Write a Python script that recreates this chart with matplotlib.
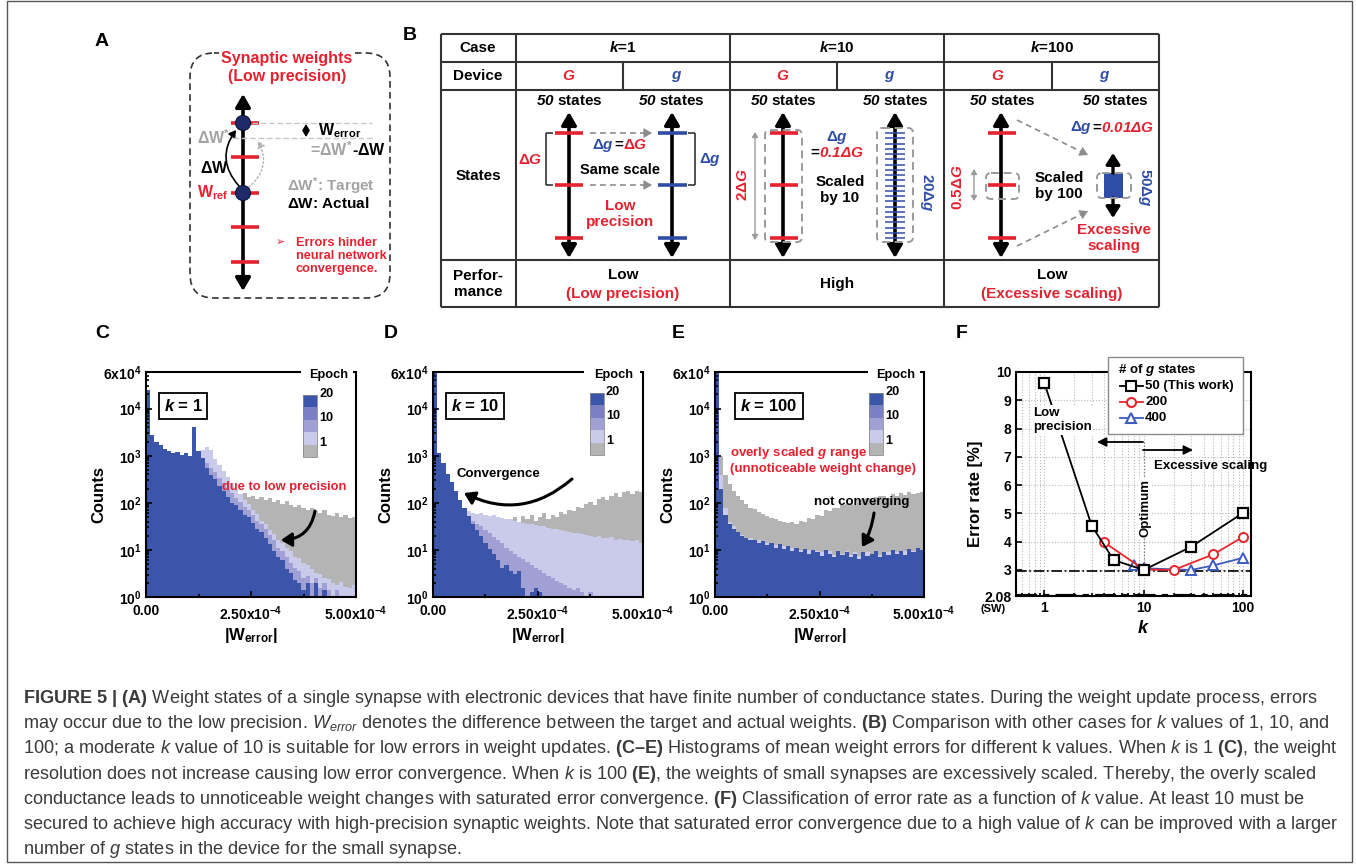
import numpy as np
import matplotlib
matplotlib.use('Agg')
import matplotlib.pyplot as plt
from matplotlib.patches import FancyArrowPatch, FancyBboxPatch, Rectangle, Circle
from matplotlib.ticker import FixedLocator, NullFormatter, LogLocator

plt.rcParams['font.family'] = ['Liberation Sans', 'DejaVu Sans']
plt.rcParams['mathtext.fontset'] = 'custom'
plt.rcParams['mathtext.rm'] = 'Liberation Sans'
plt.rcParams['mathtext.it'] = 'Liberation Sans:italic'
plt.rcParams['mathtext.bf'] = 'Liberation Sans:bold'
plt.rcParams['mathtext.bfit'] = 'Liberation Sans:italic:bold'

# ---------------- data ----------------
# histogram bins of |W_error| (0 .. 5e-4), counts stored as log10(count)
bin_edges = np.linspace(0, 5e-4, 51)

C_epoch1 = [2.80, 2.78, 2.75, 2.72, 2.70, 2.68, 2.66, 2.64, 2.62, 2.60,
            2.60, 2.58, 2.55, 2.50, 2.45, 2.40, 2.35, 2.30, 2.28, 2.25,
            2.22, 2.20, 2.17, 2.20, 2.12, 2.15, 2.08, 2.12, 2.05, 2.10,
            2.02, 2.06, 1.98, 2.03, 1.95, 1.92, 1.96, 1.88, 1.85, 1.90,
            1.82, 1.78, 1.84, 1.75, 1.72, 1.78, 1.70, 1.74, 1.68, 1.70]
C_epoch5 = [2.90, 2.95, 2.92, 2.90, 2.88, 2.86, 2.85, 2.86, 2.84, 2.85,
            2.88, 3.00, 3.05, 3.12, 3.18, 3.12, 2.92, 2.80, 2.68, 2.55,
            2.42, 2.30, 2.18, 2.06, 1.97, 1.84, 1.76, 1.62, 1.55, 1.42,
            1.34, 1.22, 1.14, 1.05, 0.97, 0.86, 0.82, 0.72, 0.68, 0.60,
            0.52, 0.48, 0.40, 0.38, 0.30, 0.25, 0.32, 0.22, 0.20, 0.25]
C_epoch10 = [2.85, 2.90, 2.88, 2.86, 2.84, 2.82, 2.80, 2.82, 2.80, 2.82,
             2.85, 2.95, 3.00, 2.95, 2.85, 2.75, 2.66, 2.52, 2.42, 2.30,
             2.20, 2.10, 2.02, 1.92, 1.85, 1.75, 1.62, 1.55, 1.45, 1.32,
             1.20, 1.05, 0.98, 0.85, 0.72, 0.62, 0.55, 0.40, 0.45, 0.30,
             0.40, 0.20, 0.30, 0.15, 0.00, 0.15, 0.00, 0.00, 0.00, 0.00]
C_epoch20 = [4.39, 3.45, 3.30, 3.22, 3.15, 3.10, 3.05, 3.08, 3.02, 3.06,
             3.00, 3.60, 3.10, 2.95, 2.75, 2.60, 2.50, 2.35, 2.25, 2.12,
             2.00, 1.95, 1.85, 1.75, 1.70, 1.58, 1.45, 1.38, 1.25, 1.12,
             0.98, 0.85, 0.78, 0.60, 0.50, 0.36, 0.30, 0.15, 0.30, 0.00,
             0.30, 0.00, 0.15, 0.00, 0.00, 0.00, 0.00, 0.00, 0.00, 0.00]

D_epoch1 = [2.60, 2.20, 1.90, 1.75, 1.70, 1.66, 1.62, 1.60, 1.56, 1.55,
            1.52, 1.50, 1.50, 1.48, 1.48, 1.50, 1.52, 1.55, 1.62, 1.70,
            1.60, 1.72, 1.65, 1.75, 1.62, 1.70, 1.78, 1.66, 1.74, 1.70,
            1.80, 1.76, 1.85, 1.82, 1.92, 1.88, 1.98, 2.02, 1.96, 2.08,
            2.12, 2.05, 2.15, 2.20, 2.12, 2.22, 2.25, 2.18, 2.26, 2.22]
D_epoch5 = [2.70, 2.30, 2.00, 1.88, 1.85, 1.84, 1.82, 1.80, 1.82, 1.78,
            1.76, 1.78, 1.74, 1.72, 1.74, 1.70, 1.68, 1.66, 1.65, 1.62,
            1.60, 1.58, 1.56, 1.55, 1.52, 1.50, 1.50, 1.47, 1.45, 1.44,
            1.42, 1.40, 1.38, 1.36, 1.35, 1.33, 1.32, 1.30, 1.28, 1.30,
            1.26, 1.25, 1.27, 1.22, 1.24, 1.20, 1.22, 1.18, 1.20, 1.15]
D_epoch10 = [2.00, 2.00, 1.98, 1.95, 1.85, 1.80, 1.75, 1.72, 1.66, 1.62,
             1.55, 1.50, 1.42, 1.35, 1.28, 1.20, 1.15, 1.05, 0.98, 0.92,
             0.85, 0.80, 0.75, 0.68, 0.62, 0.58, 0.52, 0.45, 0.40, 0.35,
             0.30, 0.25, 0.20, 0.15, 0.20, 0.10, 0.00, 0.10, 0.00, 0.00,
             0.00, 0.00, 0.00, 0.00, 0.00, 0.00, 0.00, 0.00, 0.00, 0.00]
D_epoch20 = [4.78, 3.05, 2.85, 2.62, 2.45, 2.25, 2.05, 1.90, 1.72, 1.55,
             1.42, 1.30, 1.15, 1.02, 0.92, 0.78, 0.62, 0.68, 0.55, 0.48,
             0.55, 0.20, 0.00, 0.10, 0.20, 0.10, 0.00, 0.00, 0.00, 0.00,
             0.00, 0.00, 0.00, 0.00, 0.00, 0.00, 0.00, 0.00, 0.00, 0.00,
             0.00, 0.00, 0.00, 0.00, 0.00, 0.00, 0.00, 0.00, 0.00, 0.00]

E_epoch1 = [4.50, 3.00, 2.60, 2.40, 2.25, 2.15, 2.05, 1.98, 1.90, 1.86,
            1.80, 1.76, 1.72, 1.68, 1.65, 1.62, 1.60, 1.58, 1.60, 1.56,
            1.62, 1.60, 1.68, 1.65, 1.75, 1.72, 1.85, 1.82, 1.90, 1.88,
            1.95, 1.98, 2.00, 1.96, 2.05, 2.08, 2.10, 2.05, 2.12, 2.15,
            2.15, 2.10, 2.18, 2.14, 2.20, 2.16, 2.22, 2.18, 2.20, 2.22]
E_epoch5 = [4.00, 2.60, 1.90, 1.60, 1.50, 1.35, 1.32, 1.20, 1.25, 1.15,
            1.20, 1.10, 1.15, 1.05, 1.10, 1.00, 1.08, 1.00, 1.05, 0.95,
            1.00, 0.95, 1.00, 0.90, 0.98, 0.95, 0.92, 0.98, 0.90, 0.95,
            0.92, 0.98, 0.90, 0.95, 0.88, 0.90, 0.95, 0.88, 0.92, 0.90,
            0.92, 0.95, 0.90, 0.95, 0.92, 0.98, 0.95, 0.98, 1.00, 0.98]
E_epoch20 = [4.78, 2.30, 1.75, 1.55, 1.45, 1.38, 1.30, 1.25, 1.20, 1.22,
             1.15, 1.18, 1.10, 1.14, 1.05, 1.12, 1.02, 1.08, 0.98, 1.05,
             0.95, 1.02, 0.92, 1.00, 0.95, 0.88, 1.00, 0.92, 0.85, 0.98,
             0.90, 0.95, 0.85, 0.92, 0.80, 0.95, 0.88, 0.92, 0.98, 0.85,
             0.95, 0.90, 1.00, 0.92, 0.98, 0.90, 1.02, 0.95, 1.05, 1.00]

# panel F: error rate vs k
k_50 = [1, 3, 5, 10, 30, 100]
err_50 = [9.62, 4.57, 3.35, 3.00, 3.82, 5.02]
k_200 = [4, 10, 20, 50, 100]
err_200 = [3.98, 3.02, 3.00, 3.55, 4.17]
k_400 = [8, 10, 30, 50, 100]
err_400 = [3.17, 3.06, 3.00, 3.16, 3.43]
err_sw = 2.08
err_best = 2.97

# ---------------- style ----------------
RED = '#e42230'
BLUE = '#2f4da6'
GRAY_T = '#a3a3a3'
C_E1 = '#b4b4b4'
C_E5 = '#cacaea'
C_E10 = '#a0a0d4'
C_E15 = '#7b80c4'
C_E20 = '#3b55ab'
THICK = '<|-|>,head_length=0.55,head_width=0.32'

W, H = 1356, 866
fig = plt.figure(figsize=(W / 100, H / 100), dpi=100)


def frac(l, t, r, b):
    return [l / W, 1 - b / H, (r - l) / W, (b - t) / H]


axC = fig.add_axes(frac(146, 372, 356, 597))
axD = fig.add_axes(frac(433, 372, 643, 597))
axE = fig.add_axes(frac(715, 372, 924, 597))
axF = fig.add_axes(frac(1016, 372, 1251, 596))
ov = fig.add_axes([0, 0, 1, 1], zorder=10)
ov.set_xlim(0, W)
ov.set_ylim(H, 0)
ov.axis('off')
ov.patch.set_visible(False)
rend = fig.canvas.get_renderer()


def px(x, y, s, **kw):
    kw.setdefault('ha', 'center')
    kw.setdefault('va', 'center')
    kw.setdefault('fontweight', 'bold')
    return ov.text(x, y, s, **kw)


def line(x0, y0, x1, y1, color='#333333', lw=1.3, **kw):
    ov.plot([x0, x1], [y0, y1], color=color, lw=lw, solid_capstyle='butt', **kw)


def arrow(x0, y0, x1, y1, style='-|>', ms=10, lw=1.0, color='k', rad=0.0, ls='-'):
    ov.add_patch(FancyArrowPatch((x0, y0), (x1, y1), arrowstyle=style, mutation_scale=ms,
                                 lw=lw, color=color, linestyle=ls, shrinkA=0, shrinkB=0,
                                 connectionstyle=f'arc3,rad={rad}'))


def dashed_arrow(x0, y0, x1, y1, color='#8c8c8c'):
    d = np.hypot(x1 - x0, y1 - y0)
    ux, uy = (x1 - x0) / d, (y1 - y0) / d
    ov.plot([x0, x1 - 4 * ux], [y0, y1 - 4 * uy], color=color, lw=1.2, ls=(0, (3.5, 2.5)))
    arrow(x1 - 7 * ux, y1 - 7 * uy, x1, y1, style='-|>,head_length=0.6,head_width=0.35',
          ms=9, lw=0.5, color=color)


def dbox(x0, y0, x1, y1, rs=5, color='#9a9a9a', lw=1.4):
    ov.add_patch(FancyBboxPatch((x0, y0), x1 - x0, y1 - y0, boxstyle=f'round,pad=0,rounding_size={rs}',
                                fc='none', ec=color, lw=lw, ls=(0, (4, 2.5))))


def rich(x, y, parts, size=11, ha='center'):
    # several colours in one line
    texts, widths = [], []
    for s, c in parts:
        t = ov.text(0, y, s, color=c, fontsize=size, fontweight='bold', ha='left', va='center')
        texts.append(t)
        widths.append(t.get_window_extent(rend).width)
    x0 = x - sum(widths) / 2 if ha == 'center' else x
    for t, w in zip(texts, widths):
        t.set_x(x0)
        x0 += w


# ---------------- frame and panel letters ----------------
ov.add_patch(Rectangle((7, 1), 1345, 861, fc='none', ec='#555555', lw=1.0))
for lab, x, y in [('A', 102, 41), ('B', 410, 36), ('C', 102, 334), ('D', 391, 333),
                  ('E', 678, 333), ('F', 962, 333)]:
    px(x, y, lab, fontsize=14)

# ---------------- panel A ----------------
dbox(190, 53, 390, 298, rs=24, color='#333333', lw=1.2)
px(287, 58, 'Synaptic weights', color=RED, fontsize=11.5,
   bbox=dict(boxstyle='square,pad=0.15', fc='w', ec='none'))
px(287, 77, '(Low precision)', color=RED, fontsize=11.5)
arrow(243, 291, 243, 94, style=THICK, ms=14, lw=2.6)
for yy in [123, 157, 193, 227, 262]:
    line(231, yy, 259, yy, color=RED, lw=2.6)
line(252, 123, 372, 123, color='#c8c8c8', lw=1.0, ls=(0, (4, 2)))
line(233, 138, 372, 138, color='#c8c8c8', lw=1.0, ls=(0, (4, 2)))
for yy in [123, 193]:
    ov.add_patch(Circle((243, yy), 7.5, fc='#1d2b69', ec='#0c1233', lw=0.8, zorder=5))
arrow(306, 124, 306, 137, style='<|-|>,head_length=0.5,head_width=0.3', ms=7, lw=1.1)
arrow(239, 186, 236, 130, style='-|>,head_length=0.5,head_width=0.3', ms=8, lw=1.2, rad=-0.4)
arrow(249, 187, 258, 141, style='-|>,head_length=0.5,head_width=0.3', ms=8, lw=1.1,
      color='#b5b5b5', rad=0.4, ls=':')
px(318, 131, r'$\mathbf{W_{error}}$', ha='left', fontsize=11.5)
rich(310, 150, [(r'=$\mathbf{\Delta W^{*}}$', GRAY_T), (r'-$\mathbf{\Delta W}$', 'k')],
     size=11.5, ha='left')
px(214, 138, r'$\mathbf{\Delta W^{*}}$', color=GRAY_T, fontsize=11.5)
px(214, 168, r'$\mathbf{\Delta W}$', fontsize=11.5)
px(213, 193, r'$\mathbf{W_{ref}}$', color=RED, fontsize=11.5)
px(287, 186, r'$\mathbf{\Delta W^{*}}$: Target', color=GRAY_T, ha='left', fontsize=11)
px(287, 203, r'$\mathbf{\Delta W}$: Actual', ha='left', fontsize=11)
px(280, 242, '\u27a2', color=RED, fontsize=8, fontweight='normal')
px(296, 256, 'Errors hinder\nneural network\nconvergence.', color=RED, ha='left',
   fontsize=9.2, linespacing=1.1)

# ---------------- panel B (table) ----------------
for yy in [34, 62, 90, 260, 307]:
    line(441, yy, 1159, yy, lw=1.5)
for xx in [441, 516, 730, 944, 1159]:
    line(xx, 34, xx, 307, lw=1.5)
for xx in [623, 837, 1052]:
    line(xx, 62, xx, 90, lw=1.5)
TS = 11
px(478, 48, 'Case', fontsize=TS)
px(478, 76, 'Device', fontsize=TS)
px(478, 176, 'States', fontsize=TS)
px(478, 284, 'Perfor-\nmance', fontsize=TS, linespacing=1.15)
for xc, kk in [(623, 1), (837, 10), (1052, 100)]:
    px(xc, 48, r'$\mathbfit{k}$=%d' % kk, fontsize=TS)
for xg, xs in [(569, 677), (783, 890), (998, 1105)]:
    px(xg, 76, r'$\mathbfit{G}$', color=RED, fontsize=TS)
    px(xs, 76, r'$\mathbfit{g}$', color=BLUE, fontsize=TS)
for xx in [569, 671, 783, 895, 1002, 1115]:
    px(xx, 101, r'$\mathbfit{50}$ states', fontsize=TS)
for xx in [569, 672, 783, 895, 1001]:
    arrow(xx, 258, xx, 112, style=THICK, ms=14, lw=2.6)
state_y = [133, 185, 238]

# k = 1
for yy in state_y:
    line(555, yy, 583, yy, color=RED, lw=2.6)
    line(658, yy, 687, yy, color=BLUE, lw=2.6)
line(546, 133, 546, 185, lw=1.2)
line(546, 133, 553, 133, lw=1.2)
line(546, 185, 553, 185, lw=1.2)
line(695, 133, 695, 185, lw=1.2)
line(688, 133, 695, 133, lw=1.2)
line(688, 185, 695, 185, lw=1.2)
px(530, 160, r'$\mathbf{\Delta}\mathbfit{G}$', color=RED, fontsize=TS)
px(710, 160, r'$\mathbf{\Delta}\mathbfit{g}$', color=BLUE, fontsize=TS)
dashed_arrow(590, 133, 652, 133)
dashed_arrow(590, 185, 652, 185)
rich(620, 145, [(r'$\mathbf{\Delta}\mathbfit{g}$', BLUE), ('=', 'k'),
                (r'$\mathbf{\Delta}\mathbfit{G}$', RED)], size=TS)
px(620, 170, 'Same scale', fontsize=10.5)
px(620, 214, 'Low\nprecision', color=RED, fontsize=TS, linespacing=1.2)

# k = 10
for yy in state_y:
    line(770, yy, 798, yy, color=RED, lw=2.6)
dbox(765, 130, 802, 242)
arrow(755, 240, 755, 132, style='<|-|>,head_length=0.5,head_width=0.3', ms=6, lw=1.0, color='#9a9a9a')
px(743, 185, r'2$\mathbf{\Delta}\mathbfit{G}$', color=RED, fontsize=TS, rotation=90)
px(837, 137, r'$\mathbf{\Delta}\mathbfit{g}$', color=BLUE, fontsize=TS)
rich(837, 153, [('=', 'k'), (r'$\mathbfit{0.1\Delta G}$', RED)], size=TS)
px(840, 190, 'Scaled\nby 10', fontsize=TS, linespacing=1.2)
for yy in np.linspace(133, 238, 21):
    line(885, yy, 905, yy, color=BLUE, lw=1.1)
dbox(877, 128, 913, 242)
px(926, 192, r'20$\mathbf{\Delta}\mathbfit{g}$', color=BLUE, fontsize=TS, rotation=-90)

# k = 100
for yy in state_y:
    line(988, yy, 1016, yy, color=RED, lw=2.6)
dbox(986, 173, 1019, 199)
arrow(974, 201, 974, 169, style='<|-|>,head_length=0.5,head_width=0.3', ms=6, lw=1.0, color='#9a9a9a')
px(958, 187, r'0.5$\mathbf{\Delta}\mathbfit{G}$', color=RED, fontsize=TS, rotation=90)
px(1059, 186, 'Scaled\nby 100', fontsize=TS, linespacing=1.2)
rich(1112, 128, [(r'$\mathbf{\Delta}\mathbfit{g}$', BLUE), ('=', 'k'),
                 (r'$\mathbfit{0.01\Delta G}$', RED)], size=TS)
dashed_arrow(1017, 120, 1088, 155)
dashed_arrow(1017, 246, 1088, 211)
ov.add_patch(Rectangle((1104, 173), 19, 25, fc=BLUE, ec='none'))
arrow(1113, 173, 1113, 153, style='-|>,head_length=0.55,head_width=0.35', ms=12, lw=2.4)
arrow(1113, 198, 1113, 218, style='-|>,head_length=0.55,head_width=0.35', ms=12, lw=2.4)
dbox(1097, 173, 1131, 198)
px(1145, 187, r'50$\mathbf{\Delta}\mathbfit{g}$', color=BLUE, fontsize=TS, rotation=-90)
px(1114, 238, 'Excessive\nscaling', color=RED, fontsize=TS, linespacing=1.2)

# performance row
px(623, 275, 'Low', fontsize=TS)
px(623, 294, '(Low precision)', color=RED, fontsize=TS)
px(837, 284, 'High', fontsize=TS)
px(1052, 275, 'Low', fontsize=TS)
px(1052, 294, '(Excessive scaling)', color=RED, fontsize=TS)

# ---------------- panels C-E (histograms) ----------------
ylabels = [r'$\mathbf{10^{0}}$', r'$\mathbf{10^{1}}$', r'$\mathbf{10^{2}}$',
           r'$\mathbf{10^{3}}$', r'$\mathbf{10^{4}}$', r'$\mathbf{6x10^{4}}$']
xlabels = ['0.00', r'$\mathbf{2.50x10^{-4}}$', r'$\mathbf{5.00x10^{-4}}$']


def hist_panel(ax, series, x0, x1, gap0, gap1, kx, klab, bar_x, bar_y0):
    for logc, col in series:
        ax.stairs(10 ** np.asarray(logc), bin_edges, fill=True, color=col, baseline=0.5, lw=0)
    ax.set_yscale('log')
    ax.set_xlim(0, 5e-4)
    ax.set_ylim(1, 6e4)
    ax.set_yticks([1, 10, 100, 1e3, 1e4, 6e4])
    ax.set_yticklabels(ylabels, fontsize=10)
    ax.yaxis.set_minor_locator(LogLocator(base=10, subs=np.arange(2, 10)))
    ax.yaxis.set_minor_formatter(NullFormatter())
    ax.set_xticks([0, 2.5e-4, 5e-4])
    ax.set_xticklabels(xlabels, fontsize=10, fontweight='bold')
    ax.xaxis.set_minor_locator(FixedLocator([1.25e-4, 3.75e-4]))
    ax.tick_params(which='both', direction='in', width=1.2)
    ax.tick_params(axis='y', pad=3)
    ax.tick_params(axis='x', pad=5)
    ax.tick_params(which='major', length=4)
    ax.tick_params(which='minor', length=2.5)
    for sp in ax.spines.values():
        sp.set_linewidth(1.5)
    ax.spines['top'].set_visible(False)
    ax.set_xlabel(r'$\mathbf{|W_{error}|}$', fontsize=12)
    ax.set_ylabel('Counts', fontsize=12, fontweight='bold')
    ax.xaxis.set_label_coords(0.5, -0.13)
    ax.yaxis.set_label_coords(-0.19, 0.455)
    # broken top frame around the "Epoch" key
    line(x0, 372, gap0, 372, color='k', lw=1.5)
    line(gap1, 372, x1, 372, color='k', lw=1.5)
    px((gap0 + gap1) / 2 + 2, 375, 'Epoch', fontsize=9.2)
    cols = [C_E20, C_E15, C_E10, C_E5, C_E1]
    h = 12.4
    for i, c in enumerate(cols):
        ov.add_patch(Rectangle((bar_x, bar_y0 + i * h), 14, h, fc=c, ec='none'))
    ov.add_patch(Rectangle((bar_x, bar_y0), 14, 5 * h, fc='none', ec='#8a8a8a', lw=0.6))
    for lab, dy in [('20', -1), ('10', 23), ('1', 48)]:
        px(bar_x + 16, bar_y0 + dy, lab, ha='left', fontsize=9.2)
    px(kx, 406, klab, fontsize=12,
       bbox=dict(boxstyle='square,pad=0.3', fc='w', ec='k', lw=1.3))


hist_panel(axC, [(C_epoch1, C_E1), (C_epoch5, C_E5), (C_epoch10, C_E10), (C_epoch20, C_E20)],
           146, 356, 301, 353, 183, r'$\mathbfit{k}$ = 1', 303, 395)
hist_panel(axD, [(D_epoch1, C_E1), (D_epoch5, C_E5), (D_epoch10, C_E10), (D_epoch20, C_E20)],
           433, 643, 584, 640, 475, r'$\mathbfit{k}$ = 10', 590, 393)
hist_panel(axE, [(E_epoch1, C_E1), (E_epoch5, C_E5), (E_epoch20, C_E20)],
           715, 924, 868, 920, 769, r'$\mathbfit{k}$ = 100', 869, 393)

px(284, 487, 'due to low precision', color=RED, fontsize=9.3)
arrow(315, 511, 281, 540, style='-|>,head_length=0.7,head_width=0.45', ms=9, lw=2.2, rad=-0.4)
px(498, 474, 'Convergence', fontsize=9.5)
arrow(572, 479, 464, 493, style='-|>,head_length=0.7,head_width=0.45', ms=9, lw=2.2, rad=-0.33)
px(730, 453, r'overly scaled $\mathbfit{g}$ range', color=RED, ha='left', fontsize=9.5)
px(730, 469, '(unnoticeable weight change)', color=RED, ha='left', fontsize=9.5)
px(862, 502, 'not converging', fontsize=9.5)
arrow(874, 513, 862, 547, style='-|>,head_length=0.7,head_width=0.45', ms=9, lw=2.2, rad=-0.1)

# ---------------- panel F ----------------
axF.plot(k_50, err_50, '-s', color='k', mfc='w', ms=7, mew=1.6, lw=1.3, zorder=5)
axF.plot(k_200, err_200, '-o', color='#e8262e', mfc='w', ms=6.5, mew=1.4, lw=1.3, zorder=4)
axF.plot(k_400, err_400, '-^', color='#3c5cc0', mfc='w', ms=7, mew=1.4, lw=1.3, zorder=3)
axF.axhline(err_best, color='k', lw=1.2, ls='-.', zorder=2)
axF.axhline(err_sw, color='k', lw=3.0, ls=(0, (5, 1.5, 1.5, 1.5)), zorder=2)
axF.plot([10, 10], [3.05, 7.57], color='#777777', lw=0.9, ls=':')
axF.set_xscale('log')
axF.set_xlim(0.52, 120)
axF.set_ylim(2.08, 10)
axF.set_xticks([1, 10, 100])
axF.set_xticklabels(['1', '10', '100'], fontsize=10, fontweight='bold')
axF.set_yticks([2.08, 3, 4, 5, 6, 7, 8, 9, 10])
axF.set_yticklabels(['2.08', '3', '4', '5', '6', '7', '8', '9', '10'], fontsize=10, fontweight='bold')
axF.xaxis.set_minor_formatter(NullFormatter())
axF.grid(True, which='both', axis='x', ls=':', color='#b8b8b8', lw=0.8)
axF.grid(True, which='major', axis='y', ls=':', color='#b8b8b8', lw=0.8)
axF.tick_params(which='both', direction='in', width=1.2)
axF.tick_params(which='major', length=4)
axF.tick_params(which='minor', length=2.5)
for sp in axF.spines.values():
    sp.set_linewidth(1.5)
axF.set_xlabel(r'$\mathbfit{k}$', fontsize=13)
axF.set_ylabel('Error rate [%]', fontsize=12, fontweight='bold')
axF.xaxis.set_label_coords(0.54, -0.105)
axF.yaxis.set_label_coords(-0.14, 0.455)
px(993, 609, '(SW)', fontsize=8)

px(1033, 420, 'Low\nprecision', ha='left', fontsize=9.5, linespacing=1.3,
   bbox=dict(boxstyle='square,pad=0.1', fc='w', ec='none'))
arrow(1143, 442, 1097, 442, style='-|>,head_length=0.6,head_width=0.3', ms=9, lw=1.3)
arrow(1143, 450, 1193, 450, style='-|>,head_length=0.6,head_width=0.3', ms=9, lw=1.3)
px(1211, 466, 'Excessive scaling', fontsize=9.5)
px(1145, 508, 'Optimum', fontsize=9.5, rotation=90,
   bbox=dict(boxstyle='square,pad=0.1', fc='w', ec='none'))

# legend of panel F
ov.add_patch(Rectangle((1108, 357), 135, 77, fc='w', ec='#8a8a8a', lw=1.0))
px(1118, 370, r'# of $\mathbfit{g}$ states', ha='left', fontsize=9.5)
for yy, mk, col, ms, lab in [(386, 's', 'k', 7, '50 (This work)'),
                             (402, 'o', '#e8262e', 6.5, '200'),
                             (418, '^', '#3c5cc0', 7, '400')]:
    ov.plot([1120, 1143], [yy, yy], color=col, lw=1.3)
    ov.plot([1131], [yy], marker=mk, mfc='w', mec=col, ms=ms, mew=1.5)
    px(1145, yy, lab, ha='left', fontsize=9.5)

# ---------------- caption ----------------
caption = [
    r"$\mathbf{FIGURE\ 5\ |\ (A)}$ Weight states of a single synapse with electronic devices that have finite number of conductance states. During the weight update process, errors",
    r"may occur due to the low precision. $W_{error}$ denotes the difference between the target and actual weights. $\mathbf{(B)}$ Comparison with other cases for $k$ values of 1, 10, and",
    r"100; a moderate $k$ value of 10 is suitable for low errors in weight updates. $\mathbf{(C–E)}$ Histograms of mean weight errors for different k values. When $k$ is 1 $\mathbf{(C)}$, the weight",
    r"resolution does not increase causing low error convergence. When $k$ is 100 $\mathbf{(E)}$, the weights of small synapses are excessively scaled. Thereby, the overly scaled",
    r"conductance leads to unnoticeable weight changes with saturated error convergence. $\mathbf{(F)}$ Classification of error rate as a function of $k$ value. At least 10 must be",
    r"secured to achieve high accuracy with high-precision synaptic weights. Note that saturated error convergence due to a high value of $k$ can be improved with a larger",
    r"number of $g$ states in the device for the small synapse.",
]
for i, s in enumerate(caption):
    ov.text(23, 703 + i * 25.2, s, fontsize=13.05, color='#3a3a3a', ha='left', va='baseline')

fig.savefig('out.png', dpi=100)
